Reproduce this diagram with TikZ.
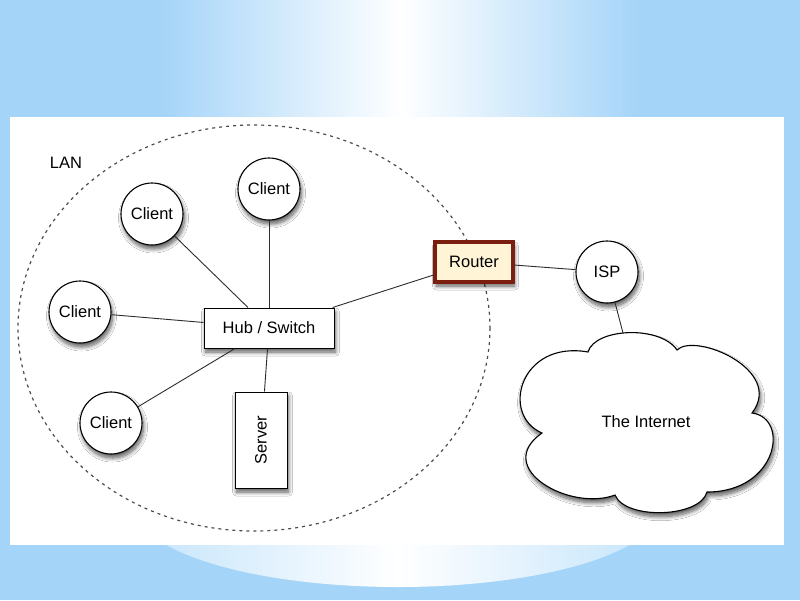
\documentclass[tikz,border=0pt]{standalone}
\usepackage{fontspec}
\setmainfont{Liberation Sans}
\usetikzlibrary{shadows.blur}
\definecolor{bgblue}{RGB}{164,212,248}
\definecolor{glowblue}{RGB}{196,228,251}
\definecolor{routerred}{RGB}{122,30,16}
\definecolor{routerfill}{RGB}{255,245,214}
\definecolor{linegray}{RGB}{45,45,45}
\begin{document}
\begin{tikzpicture}[x=1pt,y=-1pt,
  every node/.style={font=\fontsize{16.5}{18}\selectfont},
  shad/.style={blur shadow={shadow xshift=1.5pt, shadow yshift=-4pt, shadow opacity=65, shadow blur steps=10, shadow blur radius=4pt}},
  client/.style={circle, draw=black, fill=white, minimum size=62pt, inner sep=0pt, line width=1.1pt, shad},
  boxnode/.style={rectangle, draw=black, fill=white, line width=1pt, inner sep=0pt, shad},
  link/.style={draw=linegray, line width=0.9pt},
]
\useasboundingbox (0,0) rectangle (800,600);
% background
\fill[bgblue] (0,0) rectangle (800,600);
\shade[left color=bgblue, right color=white] (160,0) rectangle (402,117);
\shade[left color=white, right color=bgblue] (400,0) rectangle (640,117);
\begin{scope}
\clip (0,540) rectangle (800,600);
\shade[left color=glowblue, right color=glowblue, middle color=white] (398,508) ellipse [x radius=262, y radius=79];
\end{scope}
% panel
\fill[white] (10,117) rectangle (784,545);
% LAN boundary
\draw[gray!60!black, line width=1.2pt, dash pattern=on 3pt off 4pt] (254,328) ellipse [x radius=236, y radius=203];
\node (lan) at (66,163) {LAN};
% nodes
\node[client] (c1) at (152,214) {Client};
\node[client] (c2) at (269,189) {Client};
\node[client] (c3) at (80,312) {Client};
\node[client] (c4) at (111,423) {Client};
\node[boxnode, minimum width=130pt, minimum height=40pt] (hub) at (269,328) {Hub / Switch};
\node[boxnode, minimum width=52pt, minimum height=96pt] (server) at (261,440) {};
\node[rotate=90] (servertext) at (server.center) {Server};
\node[rectangle, draw=routerred, fill=routerfill, line width=3.2pt, minimum width=78pt, minimum height=40pt, inner sep=0pt, shad] (router) at (474,262) {Router};
\node[client] (isp) at (607,272) {ISP};
% cloud
\path[draw=black, fill=white, line width=1.1pt, line join=miter, shad]
  (542,433) .. controls (500,415) and (520,340) .. (588,352)
  .. controls (595,328) and (660,325) .. (677,350)
  .. controls (695,332) and (785,370) .. (752,413)
  .. controls (790,418) and (778,492) .. (707,492)
  .. controls (700,518) and (625,520) .. (615,495)
  .. controls (570,512) and (492,468) .. (542,433) -- cycle;
\node (net) at (646,422) {The Internet};
\coordinate (nettop) at (623,333);
% links
\draw[link] (c1) -- (hub);
\draw[link] (c2) -- (hub);
\draw[link] (c3) -- (hub);
\draw[link] (c4) -- (hub);
\draw[link] (hub) -- (server);
\draw[link] (hub) -- (router);
\draw[link] (router) -- (isp);
\draw[link] (isp) -- (nettop);
\end{tikzpicture}
\end{document}
